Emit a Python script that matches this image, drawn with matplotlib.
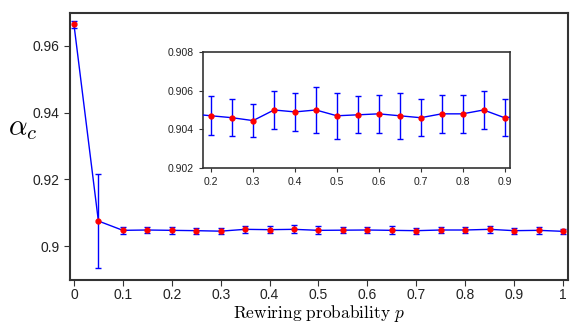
import numpy as np
import matplotlib.pyplot as plt

plt.rcParams['font.family'] = ['Liberation Sans', 'DejaVu Sans']
plt.rcParams['mathtext.fontset'] = 'cm'

p = [0.0, 0.05, 0.1, 0.15, 0.2, 0.25, 0.3, 0.35, 0.4, 0.45, 0.5,
     0.55, 0.6, 0.65, 0.7, 0.75, 0.8, 0.85, 0.9, 0.95, 1.0]
alpha = [0.9665, 0.9075, 0.9047, 0.9048, 0.9047, 0.9046, 0.90445, 0.9050, 0.9049,
         0.9050, 0.9047, 0.90475, 0.9048, 0.9047, 0.9046, 0.9048, 0.9048, 0.9050,
         0.9046, 0.9047, 0.9044]
err = [0.0010, 0.0140, 0.0010, 0.0010, 0.0010, 0.00095, 0.00085, 0.0010, 0.0010,
       0.0012, 0.0012, 0.00095, 0.0010, 0.0012, 0.00095, 0.0010, 0.0010, 0.0010,
       0.00095, 0.0010, 0.0008]

fig = plt.figure(figsize=(5.81, 3.23), dpi=100)
ax = fig.add_axes([0.1205, 0.1331, 0.857, 0.8267])
ax.errorbar(p, alpha, yerr=err, color='blue', lw=1, capsize=2, elinewidth=1,
            marker='o', ms=3.5, mfc='red', mec='red', zorder=3)
ax.set_xlim(-0.008, 1.01)
ax.set_ylim(0.8898, 0.9699)
ax.set_xticks(np.arange(0, 1.01, 0.1))
ax.set_xticklabels(['0', '0.1', '0.2', '0.3', '0.4', '0.5', '0.6', '0.7', '0.8', '0.9', '1'])
ax.set_yticks([0.9, 0.92, 0.94, 0.96])
ax.set_yticklabels(['0.9', '0.92', '0.94', '0.96'])
ax.tick_params(labelsize=10, direction='out', length=4, color='#333333', labelcolor='#222222')
ax.tick_params(axis='x', pad=2)
for s in ax.spines.values():
    s.set_linewidth(1.5)
    s.set_color('#333333')
ax.set_xlabel(r'$\mathrm{Rewiring\ probability}\ p$', fontsize=12.5, va='top')
ax.xaxis.set_label_coords(0.5, -0.085)
ax.set_ylabel(r'$\alpha_c$', fontsize=21, rotation=0, ha='center', va='center')
ax.yaxis.set_label_coords(-0.095, 0.57)

ins = fig.add_axes([0.349, 0.480, 0.528, 0.359])
ins.errorbar(p, alpha, yerr=err, color='blue', lw=1, capsize=2, elinewidth=1,
             marker='o', ms=3.5, mfc='red', mec='red', zorder=3)
ins.set_xlim(0.18, 0.912)
ins.set_ylim(0.902, 0.908)
ins.set_xticks([0.2, 0.3, 0.4, 0.5, 0.6, 0.7, 0.8, 0.9])
ins.set_yticks([0.902, 0.904, 0.906, 0.908])
ins.set_yticklabels(['0.902', '0.904', '0.906', '0.908'])
ins.tick_params(labelsize=7.5, direction='out', length=3, color='#333333', labelcolor='#222222')
for s in ins.spines.values():
    s.set_linewidth(1.2)
    s.set_color('#333333')

fig.savefig('out.png', dpi=100)
